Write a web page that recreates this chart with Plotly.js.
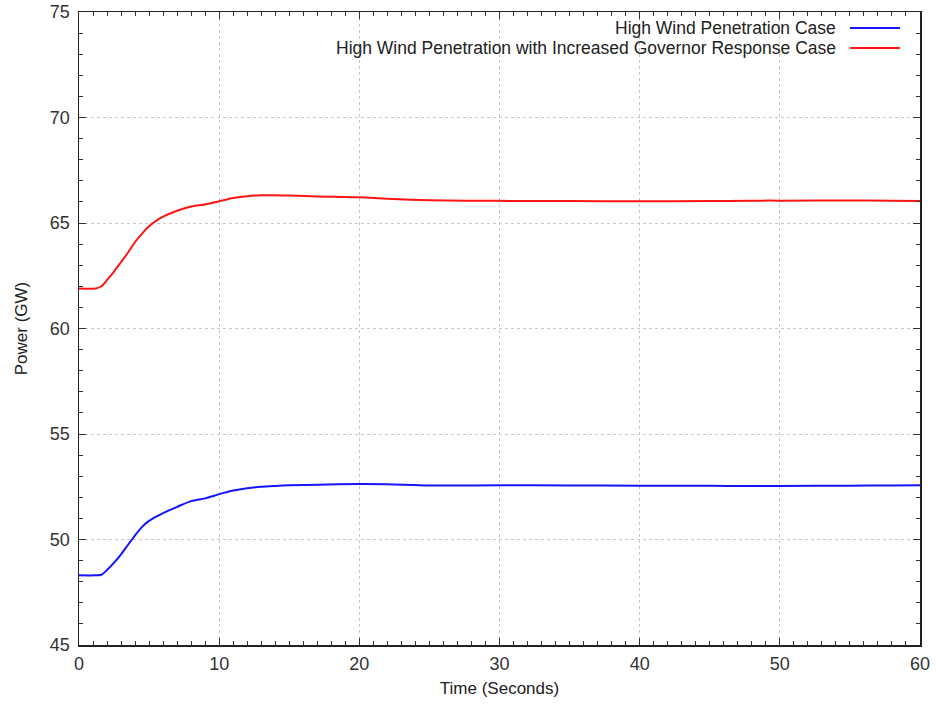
<!DOCTYPE html>
<html>
<head>
<meta charset="utf-8">
<script src="https://cdn.plot.ly/plotly-3.0.1.min.js"></script>
<style>html,body{margin:0;padding:0;background:#fff;}#chart{width:936px;height:704px;}</style>
</head>
<body>
<div id="chart"></div>
<script>
var timeSec = [0, 1.2, 1.6, 2.0, 2.5, 3.0, 3.5, 4.0, 4.5, 5.0, 5.5, 6.0, 7.0, 8.0, 9.0, 10.0, 11.0, 12.0, 13.0, 14.0, 15.0, 17.0, 20.0, 22.0, 25.0, 30.0, 35.0, 40.0, 45.0, 48.0, 50.0, 55.0, 58.0, 60.0];
var highWind = [48.3, 48.3, 48.33, 48.55, 48.9, 49.3, 49.75, 50.2, 50.6, 50.88, 51.08, 51.25, 51.55, 51.82, 51.95, 52.15, 52.32, 52.43, 52.5, 52.54, 52.57, 52.6, 52.63, 52.62, 52.56, 52.57, 52.56, 52.55, 52.55, 52.53, 52.54, 52.55, 52.56, 52.57];
var highWindGov = [61.9, 61.9, 62.0, 62.3, 62.7, 63.15, 63.6, 64.1, 64.5, 64.85, 65.1, 65.3, 65.58, 65.78, 65.88, 66.03, 66.18, 66.27, 66.31, 66.32, 66.3, 66.26, 66.22, 66.15, 66.08, 66.05, 66.04, 66.03, 66.04, 66.06, 66.06, 66.07, 66.05, 66.04];
var seriesNames = ["High Wind Penetration Case", "High Wind Penetration with Increased Governor Response Case"];
var seriesColors = ["rgb(20,20,255)", "rgb(255,20,20)"];
var xTicks = [0, 10, 20, 30, 40, 50, 60];
var yTicks = [45, 50, 55, 60, 65, 70, 75];

var traces = [
  {x: timeSec, y: highWind, name: seriesNames[0], mode: 'lines', line: {color: seriesColors[0], width: 2, shape: 'spline', smoothing: 0.8}},
  {x: timeSec, y: highWindGov, name: seriesNames[1], mode: 'lines', line: {color: seriesColors[1], width: 2, shape: 'spline', smoothing: 0.8}}
];

var fam = 'Liberation Sans, Arial, sans-serif';
var tickFont = {family: fam, size: 18, color: '#333'};
var axisCommon = {
  showline: true, linecolor: '#222', linewidth: 1.5, mirror: 'ticks',
  ticks: 'inside', ticklen: 7, tickwidth: 1, tickcolor: '#333',
  showgrid: true, gridcolor: '#c8c8c8', griddash: 'dot', gridwidth: 1,
  zeroline: false, tickfont: tickFont, fixedrange: true
};

var xaxis = Object.assign({}, axisCommon, {
  range: [0, 60], tickmode: 'array', tickvals: xTicks, ticktext: xTicks.map(String),
  minor: {dtick: 1, ticks: 'inside', ticklen: 4, tickcolor: '#333', showgrid: false},
  title: {text: 'Time (Seconds)', font: {family: fam, size: 17, color: '#222'}, standoff: 9},
  ticklabelstandoff: 2
});
var yaxis = Object.assign({}, axisCommon, {
  range: [45, 75], tickmode: 'array', tickvals: yTicks, ticktext: yTicks.map(String),
  minor: {dtick: 1, ticks: 'inside', ticklen: 4, tickcolor: '#333', showgrid: false},
  title: {text: 'Power (GW)', font: {family: fam, size: 17, color: '#222'}, standoff: 18},
  ticklabelstandoff: 4
});

var legendTextX = 0.9025;
var legendY = [0.9747, 0.9431];
var annotations = seriesNames.map(function (n, i) {
  return {xref: 'paper', yref: 'paper', x: legendTextX, y: legendY[i], xanchor: 'right', yanchor: 'middle',
    text: n, showarrow: false, font: {family: fam, size: 17.5, color: '#222'}};
});
var shapes = [
  {type: 'rect', xref: 'paper', yref: 'paper', x0: 0.005, x1: 0.995, y0: 0.93, y1: 0.995, fillcolor: '#fff', line: {width: 0}, layer: 'between'}
];
seriesColors.forEach(function (c, i) {
  shapes.push({type: 'line', xref: 'paper', yref: 'paper', x0: 0.9168, x1: 0.9762, y0: legendY[i], y1: legendY[i], line: {color: c, width: 2}});
});

var layout = {
  width: 936, height: 704,
  margin: {l: 79, r: 16, t: 12, b: 59},
  paper_bgcolor: '#fff', plot_bgcolor: '#fff',
  showlegend: false,
  xaxis: xaxis, yaxis: yaxis,
  annotations: annotations, shapes: shapes,
  font: {family: fam}
};

Plotly.newPlot('chart', traces, layout, {staticPlot: true, displayModeBar: false});
</script>
</body>
</html>
